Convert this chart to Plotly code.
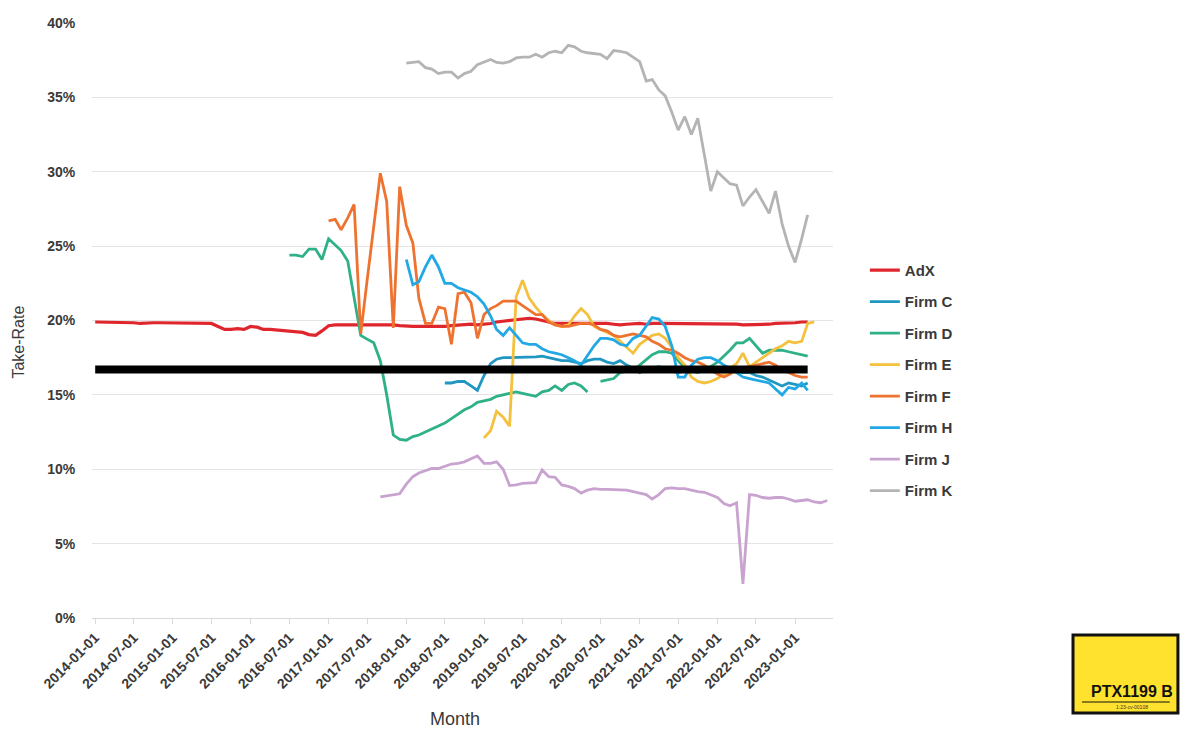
import pandas as pd
import plotly.graph_objects as go

# Monthly take-rates (percent). Each series starts at its own month.
adx_start = "2014-01-01"
adx = [
    19.9, 19.9, 19.9, 19.9, 19.85, 19.85, 19.85, 19.8, 19.85, 19.85,
    19.85, 19.85, 19.85, 19.85, 19.85, 19.85, 19.8, 19.8, 19.8, 19.6,
    19.4, 19.4, 19.45, 19.4, 19.6, 19.55, 19.4, 19.4, 19.35, 19.3,
    19.3, 19.25, 19.2, 19.05, 19.0, 19.3, 19.65, 19.7, 19.7, 19.7,
    19.75, 19.75, 19.7, 19.75, 19.75, 19.7, 19.7, 19.65, 19.6, 19.6,
    19.6, 19.6, 19.6, 19.55, 19.6, 19.65, 19.7, 19.7, 19.75, 19.7,
    19.75, 19.8, 19.9, 19.95, 20.0, 20.05, 20.1, 20.15, 20.1, 20.0,
    19.9, 19.8, 19.8, 19.8, 19.85, 19.8, 19.8, 19.8, 19.85, 19.8,
    19.75, 19.7, 19.75, 19.8, 19.8, 19.75, 19.8, 19.8, 19.8, 19.8,
    19.8, 19.8, 19.75, 19.75, 19.8, 19.8, 19.8, 19.8, 19.75, 19.75,
    19.7, 19.7, 19.75, 19.7, 19.75, 19.8, 19.8, 19.8, 19.85, 19.9, 19.9,
]

firm_c_start = "2018-07-01"
firm_c = [
    15.8, 15.8, 15.9, 15.9, 15.6, 15.3,
    16.3, 17.1, 17.4, 17.5, 17.5, 17.5, 17.5, 17.5, 17.55, 17.6,
    17.5, 17.4, 17.3, 17.3, 17.2, 17.1, 17.3, 17.4, 17.4, 17.2,
    17.1, 17.3, 17.0, 16.8, 16.5,
    16.7, 16.8, 16.9, 16.8, 16.6, 16.5, 16.6, 16.7, 16.8, 16.7,
    16.6, 16.5, 16.6, 16.7, 16.6, 16.5, 16.5, 16.3, 16.2, 16.0,
    15.8, 15.6, 15.8, 15.7, 15.6, 15.8,
]

firm_d_start = "2016-07-01"
firm_d = [
    24.4, 24.4, 24.3, 24.8, 24.8, 24.1, 25.5, 25.1, 24.7, 24.0,
    21.5, 19.0, 18.75, 18.5, 17.3, 15.0, 12.3, 12.0, 11.95, 12.2,
    12.3, 12.5, 12.7, 12.9, 13.1, 13.4, 13.7, 14.0, 14.2, 14.5,
    14.6, 14.7, 14.9, 15.0, 15.1, 15.2, 15.1, 15.0, 14.9, 15.2,
    15.3, 15.6, 15.3, 15.7, 15.8, 15.6, 15.2, None, 15.9, 16.0,
    16.1, 16.5, 16.6, 16.7, 17.0, 17.4, 17.7, 17.9, 17.9, 17.8,
    17.3, 16.8, 16.6, 16.5, 16.7, 16.9, 17.2, 17.6, 18.0, 18.5,
    18.5, 18.8, 18.3, 17.8, 18.0, 18.0, 18.0, 17.9, 17.8, 17.7, 17.6,
]

firm_e_start = "2019-01-01"
firm_e = [
    12.1, 12.6, 13.9, 13.5, 12.9, 21.6, 22.7, 21.5, 20.9, 20.4,
    20.0, 19.7, 19.6, 19.7, 20.3, 20.8, 20.4, 19.6, 19.4, 19.2,
    19.0, 18.6, 18.2, 17.8, 18.4, 18.7, 19.0, 19.1, 18.8, 18.2,
    17.5, 17.0, 16.2, 15.9, 15.8, 15.9, 16.1, 16.4, 16.8, 17.1,
    17.8, 16.9, 17.2, 17.5, 17.8, 18.1, 18.3, 18.6, 18.5, 18.6, 19.8, 19.9,
]

firm_f_start = "2017-01-01"
firm_f = [
    26.7, 26.8, 26.1, 26.9, 27.8, 19.1, 22.7, 26.3, 29.9, 28.0,
    19.5, 29.0, 26.4, 25.2, 21.5, 19.8, 19.8, 20.9, 20.8, 18.4,
    21.8, 21.9, 21.2, 18.8, 20.4, 20.8, 21.0, 21.3, 21.3, 21.3,
    21.0, 20.7, 20.4, 20.4, 19.9, 19.7, 19.6, 19.6, 19.7, 19.8,
    19.8, 19.7, 19.4, 19.3, 19.0, 18.9, 19.0, 19.1, 19.0, 18.9,
    18.6, 18.4, 18.1, 18.0, 17.8, 17.5, 17.3, 17.2, 17.0, 16.7,
    16.4, 16.2, 16.4, 16.7, 16.8, 16.9, 17.0, 17.1, 17.2, 17.0,
    16.7, 16.5, 16.3, 16.2, 16.2,
]

firm_h_start = "2018-01-01"
firm_h = [
    24.1, 22.4, 22.6, 23.6, 24.4, 23.6, 22.5, 22.5, 22.2, 22.05,
    21.9, 21.6, 21.1, 20.3, 19.4, 19.0, 19.5, 19.0, 18.5, 18.4,
    18.4, 18.1, 17.9, 17.8, 17.7, 17.5, 17.3, 17.0, 17.6, 18.3,
    18.8, 18.8, 18.7, 18.4, 18.3, 18.8, 19.0, 19.6, 20.2, 20.1,
    19.6, 18.3, 16.2, 16.2, 17.0, 17.4, 17.5, 17.5, 17.3, 17.0,
    16.8, 16.5, 16.2, 16.1, 16.0, 15.9, 15.8, 15.4, 15.0, 15.5,
    15.4, 15.8, 15.3,
]

firm_j_start = "2017-09-01"
firm_j = [
    8.15, 8.2, 8.25, 8.35, 9.0, 9.5, 9.75, 9.9, 10.05, 10.05,
    10.2, 10.35, 10.4, 10.5, 10.7, 10.9, 10.4, 10.4, 10.5, 10.0,
    8.9, 8.95, 9.05, 9.1, 9.1, 9.95, 9.5, 9.45, 8.95, 8.85,
    8.7, 8.4, 8.6, 8.7, 8.65, 8.65, 8.65, 8.6, 8.6, 8.5,
    8.4, 8.3, 8.0, 8.3, 8.7, 8.75, 8.7, 8.7, 8.6, 8.5,
    8.45, 8.3, 8.1, 7.7, 7.55, 7.75, 2.3, 8.3, 8.25, 8.1,
    8.05, 8.1, 8.1, 8.0, 7.85, 7.9, 7.95, 7.8, 7.75, 7.9,
]

firm_k_start = "2018-01-01"
firm_k = [
    37.3, 37.35, 37.4, 37.0, 36.9, 36.6, 36.7, 36.7, 36.3, 36.6,
    36.75, 37.2, 37.4, 37.55, 37.35, 37.3, 37.4, 37.65, 37.7, 37.7,
    37.9, 37.7, 38.0, 38.1, 38.0, 38.5, 38.4, 38.1, 38.0, 37.95,
    37.9, 37.6, 38.15, 38.1, 38.0, 37.7, 37.4, 36.1, 36.2, 35.5,
    35.1, 34.0, 32.8, 33.7, 32.5, 33.6, 31.0, 28.7, 30.0, 29.6,
    29.2, 29.1, 27.7, 28.3, 28.8, 28.0, 27.2, 28.7, 26.5, 25.0,
    23.9, 25.5, 27.1,
]

# Flat benchmark level drawn across the whole period
benchmark_rate = 16.7
benchmark_start = "2014-01-01"
benchmark_end = "2023-03-01"

series = [
    ("AdX", adx_start, adx, "#e0262d", 3.2),
    ("Firm C", firm_c_start, firm_c, "#1f97c2", 2.8),
    ("Firm D", firm_d_start, firm_d, "#2eb089", 2.8),
    ("Firm E", firm_e_start, firm_e, "#f4c13e", 2.8),
    ("Firm F", firm_f_start, firm_f, "#ef7330", 2.8),
    ("Firm H", firm_h_start, firm_h, "#22a8e4", 2.8),
    ("Firm J", firm_j_start, firm_j, "#c9a3cf", 2.8),
    ("Firm K", firm_k_start, firm_k, "#b4b4b4", 2.8),
]


def monthly(start, values):
    return pd.date_range(start, periods=len(values), freq="MS")


fig = go.Figure()
for name, start, vals, color, width in series:
    fig.add_trace(go.Scatter(
        x=monthly(start, vals), y=vals, name=name, mode="lines",
        line=dict(color=color, width=width), connectgaps=False,
        legendgroup=name,
    ))

bench_x = pd.date_range(benchmark_start, benchmark_end, freq="MS")
fig.add_trace(go.Scatter(
    x=bench_x, y=[benchmark_rate] * len(bench_x), mode="lines",
    line=dict(color="black", width=8), showlegend=False, hoverinfo="skip",
))

ink = "#3a3a3a"

fig.update_layout(
    width=1182, height=732,
    margin=dict(l=92, r=349, t=23, b=114),
    paper_bgcolor="white", plot_bgcolor="white",
    font=dict(family="Arial", color=ink),
    showlegend=True,
    legend=dict(
        x=1.043, xanchor="left", y=0.612, yanchor="top",
        font=dict(family="Arial", size=15, color=ink, weight="bold"),
        tracegroupgap=9, bgcolor="rgba(0,0,0,0)",
    ),
    xaxis=dict(
        type="date",
        range=["2013-12-17", "2023-06-28"],
        tick0="2014-01-01", dtick="M6", tickformat="%Y-%m-%d",
        tickangle=-45,
        tickfont=dict(family="Arial", size=14, color=ink, weight="bold"),
        showgrid=False, zeroline=False,
        showline=True, linecolor="#d9d9d9", linewidth=1,
        ticks="outside", ticklen=5, tickcolor="#d9d9d9",
    ),
    yaxis=dict(
        range=[0, 40], dtick=5, ticksuffix="%",
        tickfont=dict(family="Arial", size=14, color=ink, weight="bold"),
        showgrid=True, gridcolor="#e4e4e4", gridwidth=1,
        zeroline=False, showline=False,
        ticks="outside", ticklen=13, tickcolor="rgba(0,0,0,0)",
    ),
    annotations=[
        dict(text="Take-Rate", xref="paper", yref="paper",
             x=-0.099, y=0.464, xanchor="center", yanchor="middle",
             textangle=-90, showarrow=False,
             font=dict(family="Arial", size=16, color=ink)),
        dict(text="Month", xref="paper", yref="paper",
             x=0.49, y=-0.170, xanchor="center", yanchor="middle",
             showarrow=False,
             font=dict(family="Arial", size=18, color=ink)),
        dict(text="<b>PTX1199 B</b>", xref="paper", yref="paper",
             x=1.4035, y=-0.1235, xanchor="center", yanchor="middle",
             showarrow=False,
             font=dict(family="Arial", size=16, color="#111111")),
        dict(text="1:23-cv-00108", xref="paper", yref="paper",
             x=1.4035, y=-0.150, xanchor="center", yanchor="middle",
             showarrow=False,
             font=dict(family="Arial", size=5, color="#333333")),
    ],
    shapes=[
        dict(type="rect", xref="paper", yref="paper",
             x0=1.3239, x1=1.4655, y0=-0.1597, y1=-0.0286,
             fillcolor="#ffe22e", line=dict(color="#111111", width=3),
             layer="above"),
        dict(type="line", xref="paper", yref="paper",
             x0=1.336, x1=1.4545, y0=-0.1412, y1=-0.1412,
             line=dict(color="#111111", width=1.2), layer="above"),
    ],
)

fig.write_html("out.html")
